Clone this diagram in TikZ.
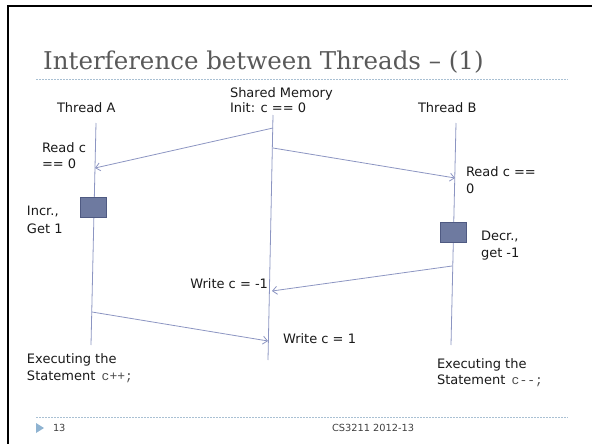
\documentclass[tikz,border=0pt]{standalone}
\usepackage{fontspec}
\newfontfamily\bodyfont{DejaVu Sans}
\newfontfamily\headfont{DejaVu Serif}
\setmonofont{Liberation Mono}
\usetikzlibrary{arrows.meta}
\definecolor{lineblue}{HTML}{8C95C2}
\definecolor{boxfill}{HTML}{6E7AA0}
\definecolor{boxedge}{HTML}{4F5A82}
\definecolor{ruleblue}{HTML}{A9C0D3}
\definecolor{markblue}{HTML}{8FB3D1}
\definecolor{titlegray}{HTML}{595959}

\begin{document}
\begin{tikzpicture}[x=1pt,y=-1pt,
	lbl/.style={inner sep=0,outer sep=0,anchor=base west,align=left,text=black!90,font=\bodyfont\fontsize{13}{17}\selectfont},
	life/.style={draw=lineblue,line width=0.8pt},
	msg/.style={draw=lineblue,line width=0.8pt,-{Straight Barb[length=4.5pt,width=8pt]}},
	opbox/.style={draw=boxedge,fill=boxfill,line width=0.8pt,inner sep=0,minimum width=26pt,minimum height=20pt},
	rule/.style={draw=ruleblue,line width=0.8pt,dash pattern=on 2pt off 1pt}]
	\useasboundingbox (0,0) rectangle (592,444);
	\draw[line width=2.6pt] (8,444) -- (8,6) -- (592,6);
	\node[inner sep=0,anchor=base west,text=titlegray,font=\headfont\fontsize{24.5}{30}\selectfont] (title) at (43,70) {Interference between Threads – (1)};
	\coordinate (ruleL) at (36,79);
	\coordinate (ruleR) at (568,79);
	\draw[rule] (ruleL) -- (ruleR);
	\node[lbl] (thrA) at (57,112) {Thread A};
	\node[lbl,font=\bodyfont\fontsize{13}{15}\selectfont] (shmem) at (230,112) {Shared Memory\\Init: c == 0};
	\node[lbl] (thrB) at (418,112) {Thread B};
	\coordinate (aTop) at (96,123);
	\coordinate (aBot) at (91,345);
	\coordinate (mTop) at (273,115);
	\coordinate (mBot) at (268,360);
	\coordinate (bTop) at (456,123);
	\coordinate (bBot) at (451,345);
	\draw[life] (aTop) -- (aBot);
	\draw[life] (mTop) -- (mBot);
	\draw[life] (bTop) -- (bBot);
	\coordinate (mRdA) at (273,128);
	\coordinate (aRd) at (95,168);
	\coordinate (mRdB) at (273,148);
	\coordinate (bRd) at (455,178);
	\coordinate (bWr) at (452,266);
	\coordinate (mWrB) at (272,291);
	\coordinate (aWr) at (92,312);
	\coordinate (mWrA) at (268,341);
	\draw[msg] (mRdA) -- (aRd);
	\draw[msg] (mRdB) -- (bRd);
	\draw[msg] (bWr) -- (mWrB);
	\draw[msg] (aWr) -- (mWrA);
	\node[opbox] (incA) at (93,207) {};
	\node[opbox] (decB) at (453,232) {};
	\node[lbl,font=\bodyfont\fontsize{13}{16}\selectfont] (rdA) at (42,168) {Read c\\== 0};
	\node[lbl,font=\bodyfont\fontsize{13}{18}\selectfont] (incrA) at (27,233) {Incr.,\\Get 1};
	\node[lbl] (rdB) at (466,193) {Read c ==\\0};
	\node[lbl] (decrB) at (481,257) {Decr.,\\get -1};
	\node[lbl,anchor=base east] (wrB) at (268,288) {Write c = -1};
	\node[lbl] (wrA) at (283,343) {Write c = 1};
	\node[lbl] (exA) at (27,380) {Executing the\\Statement \,{\ttfamily\color{black!70}c++;}};
	\node[lbl,font=\bodyfont\fontsize{13}{16}\selectfont] (exB) at (437,384) {Executing the\\Statement \,{\ttfamily\color{black!70}c--;}};
	\coordinate (footL) at (36,417);
	\coordinate (footR) at (568,417);
	\draw[rule] (footL) -- (footR);
	\fill[markblue] (36,423) -- (44,428) -- (36,433) -- cycle;
	\node[lbl,text=black!75,font=\bodyfont\fontsize{9.8}{12}\selectfont] (page) at (53,431) {13};
	\node[lbl,text=black!75,font=\bodyfont\fontsize{9.8}{12}\selectfont] (course) at (332,431) {CS3211 2012-13};
\end{tikzpicture}
\end{document}
